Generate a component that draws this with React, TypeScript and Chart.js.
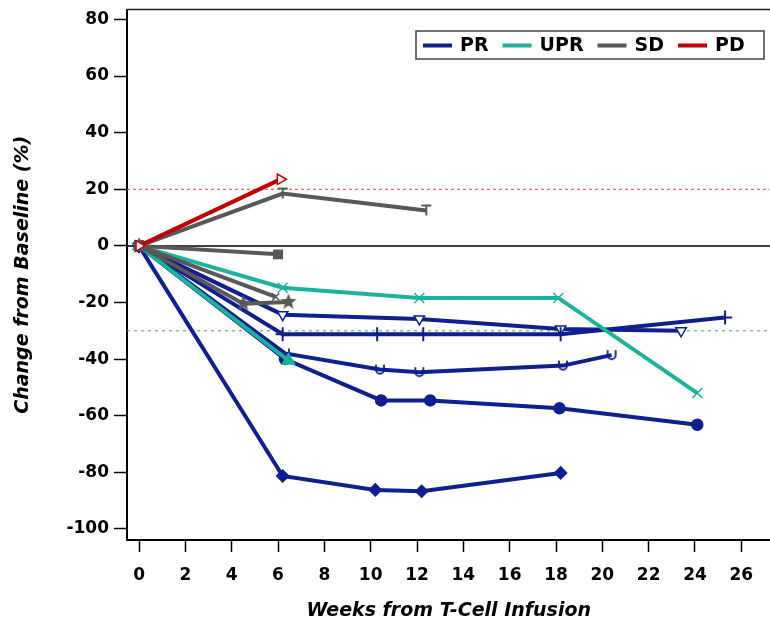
import React, { useEffect, useRef } from "react";
import { Chart, registerables } from "chart.js";

Chart.register(...registerables);

// ---------- axis ticks ----------
const xTickValues = [0, 2, 4, 6, 8, 10, 12, 14, 16, 18, 20, 22, 24, 26];
const yTickValues = [-100, -80, -60, -40, -20, 0, 20, 40, 60, 80];

// ---------- legend ----------
const legendLabels = ["PR", "UPR", "SD", "PD"];
const PR_COLOR = "#0f1f8f";
const UPR_COLOR = "#1cb39c";
const SD_COLOR = "#585858";
const PD_COLOR = "#c00000";
const legendColors = [PR_COLOR, UPR_COLOR, SD_COLOR, PD_COLOR];

// ---------- reference lines ----------
const pdThreshold = 20;
const prThreshold = -30;

// ---------- series (weeks, % change) ----------
const pd1Weeks = [0, 6.1];
const pd1Values = [0, 23.5];

const sd1Weeks = [0, 6.2, 12.4];
const sd1Values = [0, 18.5, 12.5];
const sd2Weeks = [0, 6.0];
const sd2Values = [0, -3];
const sd3Weeks = [0, 4.5, 6.45];
const sd3Values = [0, -20.4, -19.8];
const sd4Weeks = [0, 5.9];
const sd4Values = [0, -18];

const upr1Weeks = [0, 6.2, 12.1, 18.1, 24.1];
const upr1Values = [0, -14.8, -18.4, -18.4, -52];
const upr2Weeks = [0, 6.45];
const upr2Values = [0, -40.5];

const pr1Weeks = [0, 6.2, 10.2, 12.2, 18.2];
const pr1Values = [0, -81.3, -86.2, -86.7, -80.2];
const pr2Weeks = [0, 6.3, 10.45, 12.57, 18.15, 24.1];
const pr2Values = [0, -40, -54.6, -54.6, -57.4, -63.2];
const pr3Weeks = [0, 6.3, 10.4, 12.1, 18.3, 20.4];
const pr3Values = [0, -38, -43.7, -44.6, -42.3, -38.6];
const pr4Weeks = [0, 6.2, 10.28, 12.27, 18.2, 25.3];
const pr4Values = [0, -31.2, -31.2, -31.2, -31.2, -25.3];
const pr5Weeks = [0, 6.2, 12.1, 18.2, 23.4];
const pr5Values = [0, -24.3, -25.8, -29.4, -30];

function toPoints(weeks: number[], values: number[]) {
  return weeks.map((w, i) => ({ x: w, y: values[i] }));
}

function makeMarker(size: number, draw: (c: CanvasRenderingContext2D, s: number) => void) {
  const cv = document.createElement("canvas");
  cv.width = size;
  cv.height = size;
  const c = cv.getContext("2d")!;
  draw(c, size);
  return cv;
}

function starMarker(color: string) {
  return makeMarker(18, (c, s) => {
    const cx = s / 2, cy = s / 2, ro = 8.5, ri = 3.6;
    c.beginPath();
    for (let i = 0; i < 10; i++) {
      const r = i % 2 === 0 ? ro : ri;
      const a = -Math.PI / 2 + (i * Math.PI) / 5;
      const px = cx + r * Math.cos(a);
      const py = cy + r * Math.sin(a);
      if (i === 0) c.moveTo(px, py);
      else c.lineTo(px, py);
    }
    c.closePath();
    c.fillStyle = color;
    c.fill();
  });
}

function tMarker(color: string) {
  return makeMarker(14, (c) => {
    c.strokeStyle = color;
    c.lineWidth = 2;
    c.beginPath();
    c.moveTo(2, 2);
    c.lineTo(12, 2);
    c.moveTo(7, 2);
    c.lineTo(7, 12);
    c.stroke();
  });
}

function uMarker(color: string) {
  return makeMarker(14, (c) => {
    c.strokeStyle = color;
    c.lineWidth = 1.8;
    c.beginPath();
    c.moveTo(3, 2);
    c.lineTo(3, 7);
    c.arc(7, 7, 4, Math.PI, 0, true);
    c.lineTo(11, 2);
    c.stroke();
  });
}

const refLinesPlugin = {
  id: "refLines",
  beforeDatasetsDraw(chart: any) {
    const { ctx, chartArea } = chart;
    const y = chart.scales.y;
    ctx.save();
    ctx.strokeStyle = "#000";
    ctx.lineWidth = 1.5;
    ctx.beginPath();
    ctx.moveTo(chartArea.left, y.getPixelForValue(0));
    ctx.lineTo(chartArea.right, y.getPixelForValue(0));
    ctx.stroke();
    ctx.setLineDash([3, 3]);
    ctx.lineWidth = 1;
    ctx.strokeStyle = "#ff3a3a";
    ctx.beginPath();
    ctx.moveTo(chartArea.left, y.getPixelForValue(pdThreshold));
    ctx.lineTo(chartArea.right, y.getPixelForValue(pdThreshold));
    ctx.stroke();
    ctx.strokeStyle = "#4f9f4f";
    ctx.setLineDash([3, 4]);
    ctx.beginPath();
    ctx.moveTo(chartArea.left, y.getPixelForValue(prThreshold));
    ctx.lineTo(chartArea.right, y.getPixelForValue(prThreshold));
    ctx.stroke();
    ctx.restore();
  },
  afterDraw(chart: any) {
    const { ctx, chartArea } = chart;
    ctx.save();
    ctx.strokeStyle = "#222";
    ctx.lineWidth = 1.5;
    ctx.beginPath();
    ctx.moveTo(chartArea.left, chartArea.top);
    ctx.lineTo(chartArea.right, chartArea.top);
    ctx.stroke();
    const bx = 416, by = 31, bw = 348, bh = 28;
    ctx.fillStyle = "#fff";
    ctx.fillRect(bx, by, bw, bh);
    ctx.strokeStyle = "#444";
    ctx.lineWidth = 1.5;
    ctx.strokeRect(bx, by, bw, bh);
    ctx.font = "bold 19px 'DejaVu Sans'";
    ctx.textBaseline = "middle";
    let x = 423;
    const cy = by + bh / 2 + 0.5;
    legendLabels.forEach((lab, i) => {
      ctx.strokeStyle = legendColors[i];
      ctx.lineWidth = 4;
      ctx.beginPath();
      ctx.moveTo(x, cy);
      ctx.lineTo(x + 29, cy);
      ctx.stroke();
      x += 37;
      ctx.fillStyle = "#000";
      ctx.fillText(lab, x, cy + 1);
      x += ctx.measureText(lab).width + 14;
    });
    ctx.restore();
  },
};

export default function App() {
  const ref = useRef<HTMLCanvasElement | null>(null);

  useEffect(() => {
    document.body.style.margin = "0";
    document.body.style.overflow = "hidden";
    document.documentElement.style.overflow = "hidden";
    const canvas = ref.current!;
    const star = starMarker(SD_COLOR);
    const tee = tMarker(SD_COLOR);
    const you = uMarker(PR_COLOR);

    const line = (
      weeks: number[],
      values: number[],
      color: string,
      style: any,
      fill: string,
      radius: number,
      rotation = 0,
      bw = 1.5
    ) => ({
      data: toPoints(weeks, values),
      borderColor: color,
      backgroundColor: fill,
      borderWidth: 4,
      pointStyle: style,
      pointRadius: radius,
      pointRotation: rotation,
      pointBorderColor: color,
      pointBackgroundColor: fill,
      pointBorderWidth: bw,
      tension: 0,
      fill: false,
    });

    const datasets = [
      line(pd1Weeks, pd1Values, PD_COLOR, "triangle", "#fff", 6, 90),
      line(sd1Weeks, sd1Values, SD_COLOR, tee, SD_COLOR, 7),
      line(sd2Weeks, sd2Values, SD_COLOR, "rect", SD_COLOR, 6),
      line(sd3Weeks, sd3Values, SD_COLOR, star, SD_COLOR, 8),
      line(sd4Weeks, sd4Values, SD_COLOR, "crossRot", SD_COLOR, 5),
      line(upr1Weeks, upr1Values, UPR_COLOR, "crossRot", UPR_COLOR, 7),
      line(upr2Weeks, upr2Values, UPR_COLOR, "triangle", UPR_COLOR, 7),
      line(pr1Weeks, pr1Values, PR_COLOR, "rectRot", PR_COLOR, 6),
      line(pr2Weeks, pr2Values, PR_COLOR, "circle", PR_COLOR, 5.5),
      line(pr3Weeks, pr3Values, PR_COLOR, you, PR_COLOR, 7),
      line(pr4Weeks, pr4Values, PR_COLOR, "cross", PR_COLOR, 7, 0, 2),
      line(pr5Weeks, pr5Values, PR_COLOR, "triangle", "#fff", 6, 180),
    ];

    const tickFont = { family: "'DejaVu Sans'", size: 17, weight: "bold" as const };
    const titleFont = { family: "'DejaVu Sans'", size: 19, weight: "bold" as const, style: "italic" as const };

    const chart = new Chart(canvas, {
      type: "line",
      data: { datasets: datasets as any },
      options: {
        animation: false,
        responsive: false,
        devicePixelRatio: 1,
        layout: { padding: { top: 8, left: 0, right: 0, bottom: 0 } },
        plugins: { legend: { display: false }, tooltip: { enabled: false } },
        scales: {
          x: {
            type: "linear",
            min: -0.52,
            max: 27.26,
            afterBuildTicks: (s: any) => {
              s.ticks = xTickValues.map((v) => ({ value: v }));
            },
            afterFit: (s: any) => {
              s.height = 83;
            },
            grid: { drawOnChartArea: false, tickLength: 12, tickColor: "#000", tickWidth: 1.5 },
            border: { display: true, color: "#000", width: 2 },
            ticks: { color: "#000", font: tickFont, padding: 13, maxRotation: 0, autoSkip: false },
            title: {
              display: true,
              text: "Weeks from T-Cell Infusion",
              color: "#000",
              font: titleFont,
              padding: { top: 1, bottom: 1 },
            },
          },
          y: {
            type: "linear",
            min: -103.9,
            max: 83.5,
            afterBuildTicks: (s: any) => {
              s.ticks = yTickValues.map((v) => ({ value: v }));
            },
            afterFit: (s: any) => {
              s.width = 127;
              s.paddingTop = 0;
              s.paddingBottom = 0;
            },
            grid: { drawOnChartArea: false, tickLength: 13, tickColor: "#000", tickWidth: 1.5 },
            border: { display: true, color: "#000", width: 2 },
            ticks: { color: "#000", font: tickFont, padding: 5, autoSkip: false },
            title: {
              display: true,
              text: "Change from Baseline (%)",
              color: "#000",
              font: titleFont,
              padding: { top: 12, bottom: 12 },
            },
          },
        },
      },
      plugins: [refLinesPlugin],
    });

    return () => chart.destroy();
  }, []);

  return (
    <div style={{ width: 770, height: 623, overflow: "hidden", background: "#fff" }}>
      <canvas ref={ref} width={780} height={623} style={{ display: "block" }} />
    </div>
  );
}
